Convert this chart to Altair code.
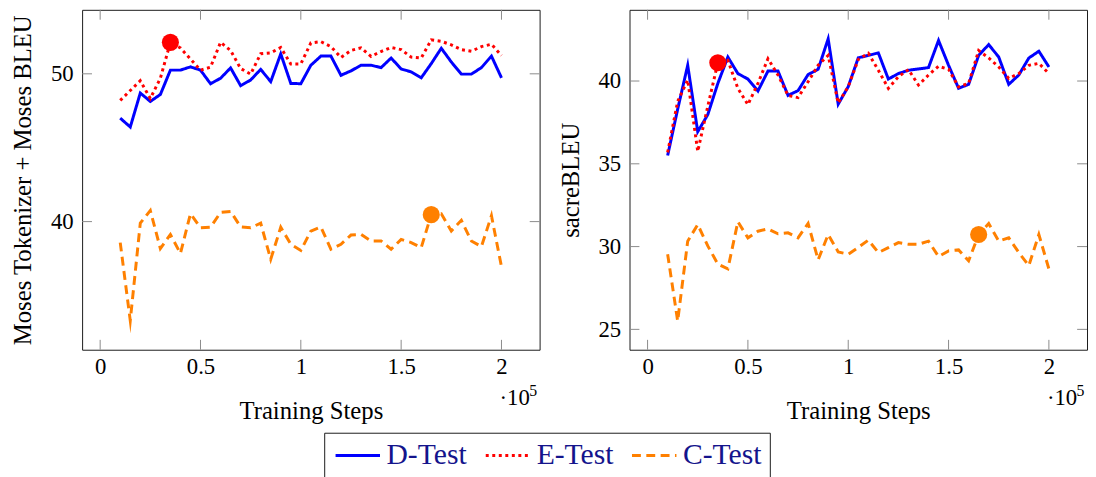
import altair as alt
import pandas as pd

# ---------------- data ----------------
steps = [10000, 15000, 20000, 25000, 30000, 35000, 40000, 45000, 50000, 55000,
         60000, 65000, 70000, 75000, 80000, 85000, 90000, 95000, 100000, 105000,
         110000, 115000, 120000, 125000, 130000, 135000, 140000, 145000, 150000, 155000,
         160000, 165000, 170000, 175000, 180000, 185000, 190000, 195000, 200000]

left_d = [47.0, 46.4, 48.7, 48.13, 48.6, 50.25, 50.25, 50.47, 50.25, 49.33,
          49.7, 50.4, 49.2, 49.58, 50.3, 49.47, 51.35, 49.35, 49.33, 50.58,
          51.2, 51.2, 49.9, 50.2, 50.58, 50.58, 50.42, 51.07, 50.33, 50.13,
          49.73, 50.69, 51.73, 50.8, 49.98, 49.98, 50.42, 51.2, 49.73]
left_e = [48.2, 48.87, 49.53, 48.33, 49.7, 52.13, 51.75, 51.0, 50.25, 50.45,
          52.13, 51.58, 50.36, 49.98, 51.36, 51.42, 51.78, 50.67, 50.67, 52.09,
          52.18, 51.84, 51.11, 51.58, 51.76, 51.18, 51.51, 51.78, 51.64, 51.13,
          51.07, 52.3, 52.2, 51.96, 51.64, 51.53, 51.84, 52.0, 51.24]
left_c = [38.58, 33.3, 39.9, 40.75, 38.18, 39.13, 37.84, 40.53, 39.58, 39.62,
          40.62, 40.69, 39.64, 39.58, 39.9, 37.45, 39.62, 38.47, 38.05, 39.36,
          39.64, 38.13, 38.47, 39.09, 39.13, 38.69, 38.69, 38.13, 38.8, 38.58,
          38.24, 40.47, 40.53, 39.36, 40.09, 38.69, 38.31, 40.4, 36.95]

right_d = [35.5, 38.3, 40.95, 36.94, 37.97, 39.85, 41.45, 40.45, 40.12, 39.4,
           40.6, 40.6, 39.13, 39.42, 40.39, 40.71, 42.55, 38.6, 39.66, 41.4,
           41.55, 41.7, 40.12, 40.45, 40.65, 40.73, 40.81, 42.45, 40.95, 39.56,
           39.8, 41.55, 42.2, 41.45, 39.8, 40.36, 41.39, 41.8, 40.85]
right_e = [35.69, 38.77, 40.06, 35.75, 38.47, 41.1, 41.25, 39.56, 38.57, 39.86,
           41.35, 40.36, 39.13, 39.0, 39.96, 40.95, 41.55, 38.67, 39.66, 41.3,
           41.68, 40.65, 39.56, 40.26, 40.69, 39.76, 40.36, 40.89, 40.71, 39.64,
           39.86, 41.84, 41.39, 40.85, 40.16, 40.45, 40.95, 41.07, 40.45]
right_c = [29.54, 25.5, 30.33, 31.33, 30.04, 28.95, 28.65, 31.5, 30.53, 30.93,
           31.07, 30.77, 30.83, 30.53, 31.4, 29.2, 30.73, 29.68, 29.54, 29.95,
           30.39, 29.64, 29.94, 30.24, 30.14, 30.14, 30.33, 29.4, 29.74, 29.8,
           29.14, 30.73, 31.39, 30.33, 30.53, 29.64, 28.85, 30.73, 28.65]

series_names = ["D-Test", "E-Test", "C-Test"]

marker_steps = [35000, 165000]
marker_series = ["E-Test", "C-Test"]
left_marker_values = [52.13, 40.47]
right_marker_values = [41.1, 30.73]

x_ticks = [0, 50000, 100000, 150000, 200000]
left_y_ticks = [40, 50]
right_y_ticks = [25, 30, 35, 40]

x_title = "Training Steps"
left_y_title = "Moses Tokenizer + Moses BLEU"
right_y_title = "sacreBLEU"
exp_text = ["·10", "5"]

x_domain = [-9000, 219000]
left_y_domain = [31.33, 54.33]
right_y_domain = [23.77, 44.3]

# ---------------- style ----------------
series_colors = ["#0000ff", "#ff0000", "#ff8000"]
series_dashes = [[1, 0], [3, 3.6], [9, 5.5]]
color_of = dict(zip(series_names, series_colors))
FONT = "Liberation Serif"
TICK = "#8a8a8a"
W, H = 463, 344
TL = 10


def panel(d, e, c, ytitle, ydomain, yticks, mvals):
    df = pd.DataFrame({
        "step": steps * 3,
        "score": d + e + c,
        "series": [n for n in series_names for _ in steps],
    })
    xs = alt.Scale(domain=x_domain, nice=False, zero=False)
    ys = alt.Scale(domain=ydomain, nice=False, zero=False)
    xax = alt.Axis(values=x_ticks, labelExpr="datum.value / 100000")
    yax = alt.Axis(values=yticks)

    def X():
        return alt.X("step:Q", scale=xs, axis=xax, title=x_title)

    def Y():
        return alt.Y("score:Q", scale=ys, axis=yax, title=ytitle)

    xt = pd.DataFrame({"step": x_ticks})
    yt = pd.DataFrame({"score": yticks})
    rule = dict(color=TICK, strokeWidth=1)
    t_bottom = alt.Chart(xt).mark_rule(**rule).encode(x=X(), y=alt.value(H), y2=alt.value(H - TL))
    t_top = alt.Chart(xt).mark_rule(**rule).encode(x=X(), y=alt.value(0), y2=alt.value(TL))
    t_left = alt.Chart(yt).mark_rule(**rule).encode(y=Y(), x=alt.value(0), x2=alt.value(TL))
    t_right = alt.Chart(yt).mark_rule(**rule).encode(y=Y(), x=alt.value(W), x2=alt.value(W - TL))

    lines = alt.Chart(df).mark_line(strokeWidth=3, strokeMiterLimit=10).encode(
        x=X(),
        y=Y(),
        color=alt.Color("series:N", scale=alt.Scale(domain=series_names, range=series_colors),
                        title=None, sort=series_names),
        strokeDash=alt.StrokeDash("series:N", scale=alt.Scale(domain=series_names, range=series_dashes),
                                  title=None, sort=series_names),
    )

    layers = [t_bottom, t_top, t_left, t_right, lines]
    for s, st, v in zip(marker_series, marker_steps, mvals):
        mdf = pd.DataFrame({"step": [st], "score": [v]})
        layers.append(alt.Chart(mdf).mark_circle(size=300, opacity=1, color=color_of[s]).encode(x=X(), y=Y()))

    e1 = alt.Chart(pd.DataFrame({"t": [exp_text[0]]})).mark_text(
        align="left", baseline="alphabetic", dx=-2, font=FONT, fontSize=23, color="black"
    ).encode(x=alt.datum(200000), y=alt.value(H + 56), text="t:N")
    e2 = alt.Chart(pd.DataFrame({"t": [exp_text[1]]})).mark_text(
        align="left", baseline="alphabetic", dx=28, font=FONT, fontSize=16, color="black"
    ).encode(x=alt.datum(200000), y=alt.value(H + 47), text="t:N")
    layers += [e1, e2]
    return alt.layer(*layers).properties(width=W, height=H)


left = panel(left_d, left_e, left_c, left_y_title, left_y_domain, left_y_ticks, left_marker_values)
right = panel(right_d, right_e, right_c, right_y_title, right_y_domain, right_y_ticks, right_marker_values)

chart = alt.hconcat(left, right, spacing=17).properties(
    padding={"left": 2, "top": -2, "right": 0, "bottom": 0}
).configure_view(
    stroke="#1a1a1a", strokeWidth=1
).configure_axis(
    labelFont=FONT, titleFont=FONT, labelFontSize=23, titleFontSize=25,
    titleFontWeight="normal", labelColor="black", titleColor="black",
    ticks=False, domain=False, grid=False,
).configure_axisX(
    labelPadding=6, titlePadding=21
).configure_axisY(
    labelPadding=9, titlePadding=15
).configure_legend(
    orient="none", legendX=245, legendY=428, direction="horizontal",
    strokeColor="#1a1a1a", fillColor="white", padding=8,
    symbolType="M-2.25,0L2.25,0", symbolSize=400, symbolStrokeWidth=3, symbolOffset=11,
    labelFont=FONT, labelFontSize=30, labelColor="#14148c",
    columnPadding=12, labelOffset=14,
)

chart.save("out.html", embed_options={"renderer": "svg", "actions": False})
